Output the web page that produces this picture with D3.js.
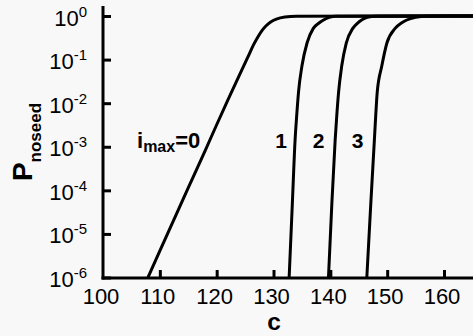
<!DOCTYPE html>
<html>
<head>
<meta charset="utf-8">
<script src="https://cdn.jsdelivr.net/npm/d3@7"></script>
<style>
  html, body { margin: 0; padding: 0; background: #f8f8f8; }
  svg { display: block; font-family: "Liberation Sans", Arial, sans-serif; }
</style>
</head>
<body>
<svg id="chart" width="473" height="336"></svg>
<script>
// Probability of no seed vs. concentration c, one curve per i_max
const xTicks = [100, 110, 120, 130, 140, 150, 160];
const yExponents = [0, -1, -2, -3, -4, -5, -6];

const c0 = [107.9, 110, 112, 114, 116, 118, 120, 122, 124, 125.5, 126.5, 127.3, 128, 128.7, 129.5, 130.5, 132, 134, 165.1];
const p0 = [1e-6, 4.1e-6, 1.55e-5, 5.9e-5, 2.2e-4, 8.3e-4, 3.2e-3, 1.2e-2, 4.4e-2, 0.115, 0.22, 0.34, 0.47, 0.6, 0.73, 0.85, 0.95, 0.99, 1];

const c1 = [132.75, 133.3, 133.8, 134.1, 134.4, 135.0, 135.9, 137.0, 138.0, 138.8, 139.8, 141, 165.1];
const p1 = [1e-6, 4.5e-5, 1.45e-3, 5.6e-3, 1.8e-2, 7.1e-2, 0.24, 0.52, 0.69, 0.81, 0.93, 0.99, 1];

const c2 = [139.67, 140.25, 140.85, 141.15, 141.45, 142.0, 142.8, 143.95, 144.8, 145.5, 146.5, 148, 165.1];
const p2 = [1e-6, 4.5e-5, 1.45e-3, 5.6e-3, 1.8e-2, 7.1e-2, 0.24, 0.52, 0.69, 0.81, 0.93, 0.99, 1];

const c3 = [146.42, 147.1, 147.75, 148.0, 148.25, 149.05, 149.95, 151.4, 152.5, 153.45, 155, 157, 165.1];
const p3 = [1e-6, 4.5e-5, 1.45e-3, 5.6e-3, 1.8e-2, 7.1e-2, 0.24, 0.52, 0.69, 0.81, 0.93, 0.99, 1];

const curveLabels = ["0", "1", "2", "3"];

const series = [[c0, p0], [c1, p1], [c2, p2], [c3, p3]].map(([cs, ps]) =>
  cs.map((c, i) => ({ c, p: ps[i] })));

const svg = d3.select("#chart");
const plotLeft = 103, plotRight = 473, plotTop = 6, plotBottom = 278;

const x = d3.scaleLinear().domain([100, 165.1]).range([plotLeft, plotRight]);
const y = d3.scaleLog().domain([1e-6, Math.pow(10, 0.23)]).range([277.5, plotTop]);

svg.append("defs").append("clipPath").attr("id", "plot")
  .append("rect").attr("x", plotLeft).attr("y", 0).attr("width", plotRight - plotLeft).attr("height", plotBottom);

const line = d3.line()
  .x(d => x(d.c))
  .y(d => y(d.p))
  .curve(d3.curveMonotoneX);

svg.append("g").attr("clip-path", "url(#plot)")
  .selectAll("path")
  .data(series)
  .join("path")
  .attr("d", line)
  .attr("fill", "none")
  .attr("stroke", "#000")
  .attr("stroke-width", 3)
  .attr("stroke-linejoin", "round");

// Axes
const xAxis = svg.append("g").attr("transform", `translate(0,${plotBottom})`)
  .call(d3.axisBottom(x).tickValues(xTicks).tickSizeInner(-8).tickSizeOuter(0).tickPadding(0).tickFormat(""));
xAxis.select(".domain").attr("stroke-width", 3).attr("d", `M${plotLeft - 1.5},0H${plotRight}`);
xAxis.selectAll(".tick line").attr("stroke-width", 3);
xAxis.selectAll(".tick").filter(d => d === 100).select("line").remove();

xAxis.selectAll(".xlab")
  .data(xTicks)
  .join("text")
  .attr("class", "xlab")
  .attr("x", d => x(d) - 2)
  .attr("y", 25.5)
  .attr("text-anchor", "middle")
  .attr("font-size", 22)
  .attr("fill", "#000")
  .text(d => d);

const yAxis = svg.append("g").attr("transform", `translate(${plotLeft},0)`)
  .call(d3.axisLeft(y).tickValues(yExponents.map(e => Math.pow(10, e))).tickSizeInner(-8).tickSizeOuter(0).tickFormat(""));
yAxis.select(".domain").attr("stroke-width", 3).attr("d", `M0,${plotTop}V${plotBottom + 1.5}`);
yAxis.selectAll(".tick line").attr("stroke-width", 3);

const ylab = svg.append("g").selectAll("text")
  .data(yExponents)
  .join("text")
  .attr("x", 87)
  .attr("y", d => y(Math.pow(10, d)) + 9.5)
  .attr("text-anchor", "end")
  .attr("font-size", 22)
  .attr("fill", "#000");
ylab.append("tspan").text("10");
ylab.append("tspan").attr("font-size", 15).attr("dy", -9).text(d => d === 0 ? "0" : "-" + (-d));

// Axis titles
svg.append("text")
  .attr("x", 274)
  .attr("y", 330.4)
  .attr("text-anchor", "middle")
  .attr("font-size", 24.5)
  .attr("font-weight", "bold")
  .text("c");

const yt = svg.append("text")
  .attr("transform", "translate(31.5,142) rotate(-90)")
  .attr("text-anchor", "middle")
  .attr("font-weight", "bold")
  .attr("font-size", 28);
yt.append("tspan").text("P");
yt.append("tspan").attr("font-size", 17).attr("dy", 9).text("noseed");

// Curve labels
const lab0 = svg.append("text")
  .attr("x", 137)
  .attr("y", 148)
  .attr("font-weight", "bold")
  .attr("font-size", 22);
lab0.append("tspan").text("i");
lab0.append("tspan").attr("font-size", 16).attr("dy", 4).text("max");
lab0.append("tspan").attr("dy", -4).text("=" + curveLabels[0]);

svg.selectAll(".clab")
  .data([[curveLabels[1], 281], [curveLabels[2], 318.5], [curveLabels[3], 357.5]])
  .join("text")
  .attr("class", "clab")
  .attr("x", d => d[1])
  .attr("y", 148)
  .attr("text-anchor", "middle")
  .attr("font-weight", "bold")
  .attr("font-size", 21)
  .text(d => d[0]);
</script>
</body>
</html>
